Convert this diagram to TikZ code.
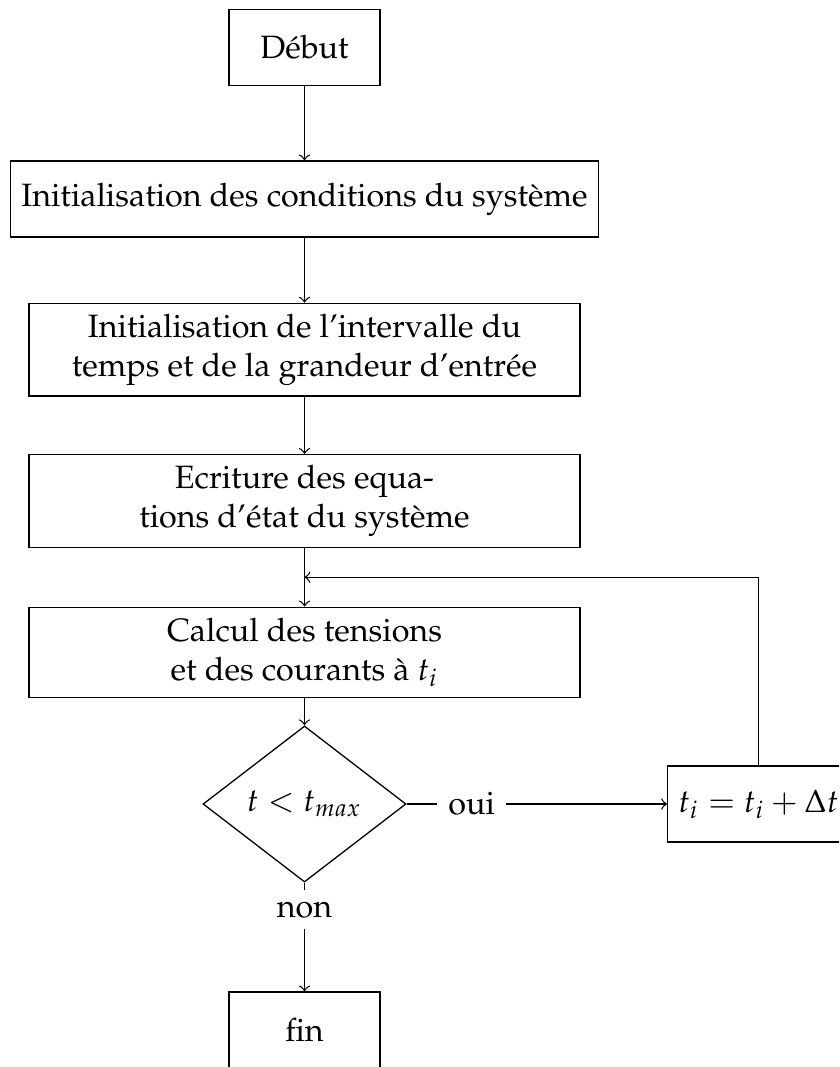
\documentclass[tikz,border=0pt]{standalone}
\usepackage[T1]{fontenc}
\usepackage{mathpazo}
\usetikzlibrary{shapes.geometric,calc}
\begin{document}
\begin{tikzpicture}[x=0.3094pt,y=-0.3094pt,
  box/.style={draw,rectangle,minimum height=23.5pt,align=center},
  widebox/.style={box,minimum width=170.4pt},
  endbox/.style={box,minimum width=46.7pt},
  testbox/.style={draw,diamond,shape aspect=1.3,inner sep=1pt,minimum width=62.8pt,minimum height=48.3pt},
  lab/.style={inner sep=3.333pt},
  arr/.style={->}]
\clip (0,0) rectangle (839,1067);
\node[endbox] (debut) at (304.5,47.5) {D\'ebut};
\node[box] (init) at (304.5,199) {Initialisation des conditions du syst\`eme};
\node[widebox] (interv) at (304.5,349.7) {Initialisation de l'intervalle du\\temps et de la grandeur d'entr\'ee};
\node[widebox] (ecr) at (304.5,501) {Ecriture des equa-\\tions d'\'etat du syst\`eme};
\node[widebox] (calc) at (304.5,652.3) {Calcul des tensions\\et des courants \`a $t_i$};
\node[testbox] (test) at (304.5,804) {$t < t_{max}$};
\node[box] (incr) at (758.5,804) {$t_i = t_i + \Delta t$};
\node[endbox] (fin) at (304.5,1030) {fin};
\coordinate (loop) at ($(ecr.south)!0.5!(calc.north)$);
\path (test.east) -- node[lab,pos=0.25] (oui) {oui} (incr.west);
\path (test.south) -- node[lab,pos=0.25] (non) {non} (fin.north);
\draw[arr] (debut) -- (init);
\draw[arr] (init) -- (interv);
\draw[arr] (interv) -- (ecr);
\draw[arr] (ecr) -- (calc);
\draw[arr] (calc) -- (test);
\draw (test.east) -- (oui);
\draw[arr] (oui) -- (incr.west);
\draw (test.south) -- (non);
\draw[arr] (non) -- (fin);
\draw[arr] (incr.north) |- (loop);
\end{tikzpicture}
\end{document}
